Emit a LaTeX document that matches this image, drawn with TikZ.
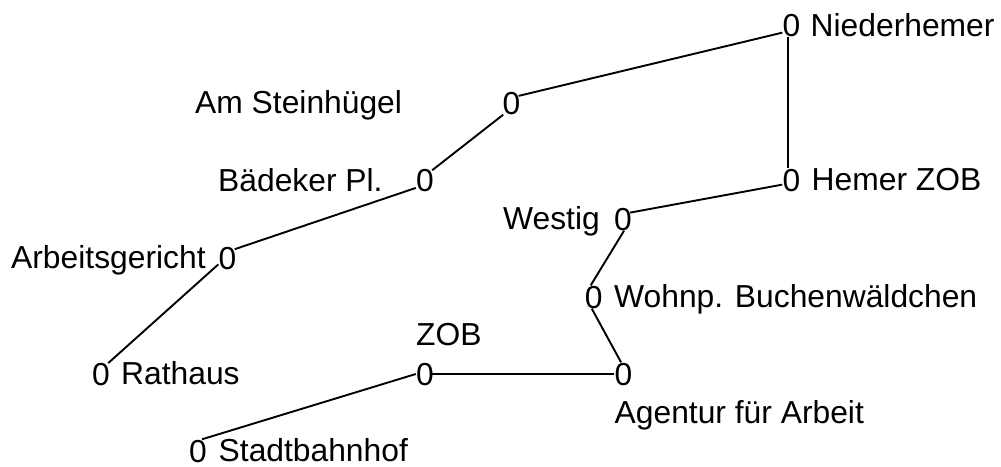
\documentclass[tikz,border=0pt]{standalone}
\usepackage{fontspec}
\setmainfont{Liberation Sans}
\begin{document}
\begin{tikzpicture}[x=1pt,y=-1pt,
  stopnode/.style={inner sep=0pt,font=\fontsize{31.8}{34}\selectfont,text height=23pt,text depth=0pt,text width=16pt,align=center,anchor=center},
  lab/.style={inner sep=0pt,font=\fontsize{31.8}{34}\selectfont,anchor=base west},
  link/.style={line width=1.9pt,black}]
\useasboundingbox (0,0) rectangle (1001,466);
\node[stopnode] (n1) at (790.5,25) {0};
\node[stopnode] (n2) at (790.5,179.5) {0};
\node[stopnode] (n3) at (622,219) {0};
\node[stopnode] (n4) at (592.8,297) {0};
\node[stopnode] (n5) at (622.5,374) {0};
\node[stopnode] (n6) at (424,374) {0};
\node[stopnode] (n7) at (197,451) {0};
\node[stopnode] (n8) at (510.5,103) {0};
\node[stopnode] (n9) at (424,180) {0};
\node[stopnode] (n10) at (226.5,258) {0};
\node[stopnode] (n11) at (100,374) {0};
\node[lab] (l1) at (810.5,36) {Niederhemer};
\node[lab] (l2) at (811.5,190.5) {Hemer ZOB};
\node[lab] (l3) at (503,229.5) {Westig};
\node[lab] (l4) at (614,307) {Wohnp. Buchenwäldchen};
\node[lab] (l5) at (614.5,423) {Agentur für Arbeit};
\node[lab] (l6) at (416,345.7) {ZOB};
\node[lab] (l7) at (218.5,461.5) {Stadtbahnhof};
\node[lab] (l8) at (195,113.3) {Am Steinhügel};
\node[lab] (l9) at (218,191) {Bädeker Pl.};
\node[lab] (l10) at (11,268) {Arbeitsgericht};
\node[lab] (l11) at (121,384) {Rathaus};
\draw[link] (n1.258) -- (n2.102);
\draw[link] (n2.212) -- (n3.38);
\draw[link] (n3.280) -- (n4.100);
\draw[link] (n4.265) -- (n5.97);
\draw[link] (n5.west) -- (n6.east);
\draw[link] (n6.west) -- (n7.67);
\draw[link] (n1.223) -- (n8.41);
\draw[link] (n8.238) -- (n9.50);
\draw[link] (n9.224) -- (n10.47);
\draw[link] (n10.218) -- (n11.53);
\end{tikzpicture}
\end{document}
